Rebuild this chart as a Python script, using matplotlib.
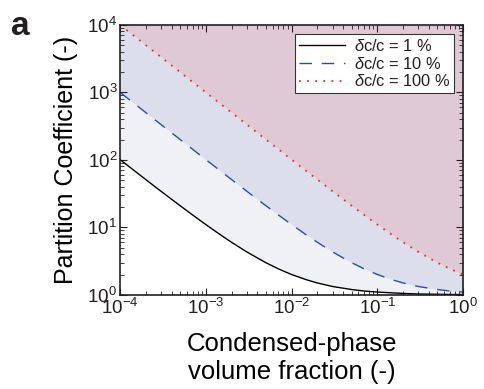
import matplotlib
matplotlib.use('Agg')
import matplotlib.pyplot as plt

plt.rcParams['font.family'] = ['Liberation Sans', 'DejaVu Sans']
plt.rcParams['mathtext.fontset'] = 'custom'
plt.rcParams['mathtext.rm'] = 'Liberation Sans'
plt.rcParams['mathtext.it'] = 'Liberation Sans:italic'
plt.rcParams['text.color'] = '#231f20'
plt.rcParams['xtick.color'] = '#231f20'
plt.rcParams['ytick.color'] = '#231f20'

# volume fraction sample points
phi = [1e-4, 1.5e-4, 2e-4, 3e-4, 5e-4, 7e-4, 1e-3, 1.5e-3, 2e-3, 3e-3, 5e-3, 7e-3,
       1e-2, 1.5e-2, 2e-2, 3e-2, 5e-2, 7e-2, 0.1, 0.15, 0.2, 0.3, 0.5, 0.7, 1.0]
# partition coefficient for each curve
p_1 = [101, 67.7, 51, 34.3, 21, 15.3, 11, 7.67, 6, 4.33, 3, 2.43,
       2, 1.67, 1.5, 1.33, 1.2, 1.14, 1.1, 1.07, 1.05, 1.03, 1.02, 1.014, 1.01]
p_10 = [1001, 668, 501, 334, 201, 144, 101, 67.7, 51, 34.3, 21, 15.3,
        11, 7.67, 6, 4.33, 3, 2.43, 2, 1.67, 1.5, 1.33, 1.2, 1.14, 1.1]
p_100 = [10001, 6668, 5001, 3334, 2001, 1430, 1001, 668, 501, 334, 201, 144,
         101, 67.7, 51, 34.3, 21, 15.3, 11, 7.67, 6, 4.33, 3, 2.43, 2]

fig = plt.figure(figsize=(4.84, 3.89), dpi=100)
ax = fig.add_axes([0.248, 0.242, 0.709, 0.694])

# shaded regions between curves
ax.fill_between(phi, p_1, p_10, color='#f0f1f4', lw=0)
ax.fill_between(phi, p_10, p_100, color='#dcdeeb', lw=0)
ax.fill_between(phi, p_100, 1e5, color='#dfc9d5', lw=0)

ax.plot(phi, p_1, color='black', lw=1, label=r'$\mathit{\delta}$c/c = 1 %')
ax.plot(phi, p_10, color='#2a4fa8', lw=1, dashes=(9, 7), label=r'$\mathit{\delta}$c/c = 10 %')
ax.plot(phi, p_100, color='#f0292b', lw=1.3, dashes=(1, 3.5), label=r'$\mathit{\delta}$c/c = 100 %')

ax.set_xscale('log')
ax.set_yscale('log')
ax.set_xlim(1e-4, 1)
ax.set_ylim(1, 1e4)

ax.tick_params(which='both', direction='in', top=True, right=True, labelsize=13.5)
ax.tick_params(which='major', length=5)
ax.tick_params(which='minor', length=3)
ax.tick_params(axis='x', pad=2)
ax.tick_params(axis='y', pad=2)
for s in ax.spines.values():
    s.set_linewidth(1.2)
    s.set_color('#231f20')

ax.set_xlabel('Condensed-phase\nvolume fraction (-)', fontsize=18.5, linespacing=1.25, labelpad=10)
ax.set_ylabel('Partition Coefficient (-)', fontsize=18, labelpad=7)

leg = ax.legend(loc='upper right', fontsize=11.8, frameon=True, fancybox=False,
                edgecolor='#333333', framealpha=1, handlelength=2.8,
                borderaxespad=0.55, labelspacing=0.1, borderpad=0.25, handletextpad=0.5)
leg.get_frame().set_linewidth(0.8)

fig.text(0.022, 0.91, 'a', fontsize=24, fontweight='bold')

fig.savefig('out.png', dpi=100)
